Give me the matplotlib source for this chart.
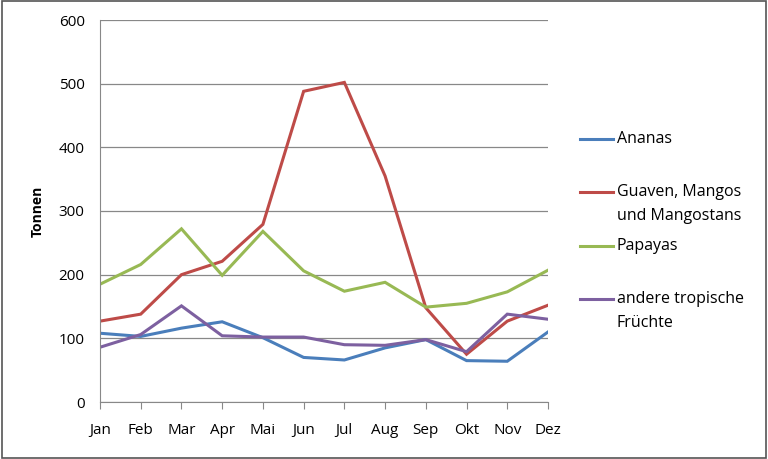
import matplotlib
matplotlib.use("Agg")
import matplotlib.pyplot as plt
from matplotlib.patches import Rectangle
from matplotlib.lines import Line2D

plt.rcParams['font.family'] = ['Open Sans', 'DejaVu Sans']

monate = ['Jan', 'Feb', 'Mar', 'Apr', 'Mai', 'Jun', 'Jul', 'Aug', 'Sep', 'Okt', 'Nov', 'Dez']
ananas = [108, 103, 116, 126, 101, 70, 66, 85, 98, 65, 64, 110]
guaven = [127, 138, 200, 221, 279, 488, 502, 355, 148, 75, 127, 152]
papayas = [185, 216, 272, 199, 268, 206, 174, 188, 149, 155, 173, 207]
andere = [86, 106, 151, 104, 102, 102, 90, 89, 98, 79, 138, 130]

serien = [
    ('Ananas', ananas, '#4A7EBB'),
    ('Guaven, Mangos\nund Mangostans', guaven, '#BE4B48'),
    ('Papayas', papayas, '#98B954'),
    ('andere tropische\nFrüchte', andere, '#7D60A0'),
]

W, H = 768, 459
fig = plt.figure(figsize=(W / 100, H / 100), dpi=100)
ax = fig.add_axes([100 / W, 57 / H, 448 / W, 382 / H])

x = range(len(monate))
for name, werte, farbe in serien:
    ax.plot(x, werte, color=farbe, lw=2.2, solid_joinstyle='miter')

ax.set_xlim(0, len(monate) - 1)
ax.set_ylim(0, 600)
ax.set_yticks(range(0, 601, 100))
ax.set_xticks(list(x))
ax.set_xticklabels(monate)
ax.grid(axis='y', color='#888888', lw=0.9)
ax.set_axisbelow(True)
for s in ['top', 'right']:
    ax.spines[s].set_visible(False)
ax.spines['left'].set_color('#888888')
ax.spines['bottom'].set_color('#888888')
ax.tick_params(axis='both', labelsize=11, color='#888888', length=5, direction='out')
ax.tick_params(axis='y', length=0, pad=11)
ax.tick_params(axis='x', pad=10)
ax.set_ylabel('Tonnen', fontsize=10, fontweight='bold', labelpad=10)

# Legende (Excel-Stil: Linie auf Höhe der ersten Textzeile)
leg_y = [139, 192, 246, 299]
for (name, werte, farbe), yy in zip(serien, leg_y):
    yf = 1 - yy / H
    fig.add_artist(Line2D([580 / W, 613 / W], [yf, yf], color=farbe, lw=2.2,
                          transform=fig.transFigure))
    for i, zeile in enumerate(name.split('\n')):
        fig.text(617 / W, 1 - (yy + 24 * i) / H, zeile, fontsize=11.5,
                 va='center', ha='left')

fig.patches.append(Rectangle((0.002, 0.002), 0.996, 0.996, transform=fig.transFigure,
                             fill=False, edgecolor='#555555', lw=1.2))

fig.savefig('out.png', dpi=100)
